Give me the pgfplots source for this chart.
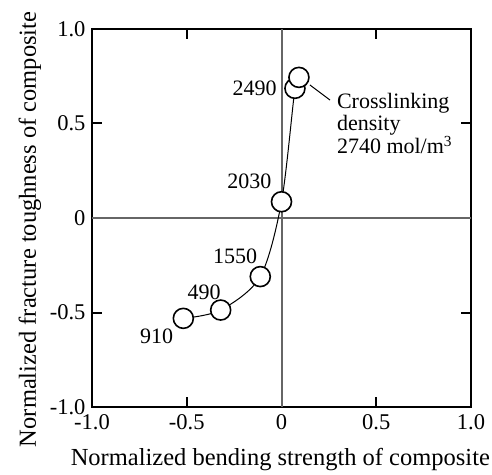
\documentclass[border=0pt]{standalone}
\usepackage{pgfplots}
\pgfplotsset{compat=1.18}
\usepackage{fontspec}
\setmainfont{Liberation Serif}
\begin{document}
\begin{tikzpicture}
\begin{axis}[
  scale only axis,
  width=379pt, height=378pt,
  xmin=-1, xmax=1, ymin=-1, ymax=1,
  xtick={-1,-0.5,0,0.5,1}, xticklabels={-1.0,-0.5,0,0.5,1.0},
  ytick={-1,-0.5,0,0.5,1}, yticklabels={-1.0,-0.5,0,0.5,1.0},
  tick align=inside, major tick length=10pt,
  tick style={line width=2pt, black},
  axis line style={line width=2pt},
  ticklabel style={font=\fontsize{22.5}{24}\selectfont},
  xticklabel style={yshift=-4pt},
  yticklabel style={xshift=-3pt},
  xlabel={Normalized bending strength of composite},
  ylabel={Normalized fracture toughness of composite},
  xlabel style={font=\fontsize{24.5}{26}\selectfont, at={(axis description cs:0.497,-0.140)}, anchor=center},
  ylabel style={font=\fontsize{24.5}{26}\selectfont, at={(axis description cs:-0.1636,0.470)}, anchor=center},
  clip=false,
]
\draw[line width=2pt, black!60] (axis cs:0,-1) -- (axis cs:0,1);
\draw[line width=2pt, black!60] (axis cs:-1,0) -- (axis cs:1,0);
\addplot[black, line width=1pt, smooth, tension=0.5,
  mark=*, mark size=10pt, mark options={fill=white, draw=black, line width=1.6pt}]
  coordinates {(-0.518,-0.531) (-0.321,-0.487) (-0.112,-0.31) (0.0,0.086) (0.071,0.686) (0.092,0.744)};
\draw[black, line width=1pt] (axis cs:0.150,0.704) -- (axis cs:0.256,0.624);
\begin{scope}[every node/.style={font=\fontsize{22}{23}\selectfont, inner sep=0pt}]
\node[anchor=east] at (axis cs:-0.025,0.686) {2490};
\node[anchor=east] at (axis cs:-0.052,0.192) {2030};
\node[anchor=east] at (axis cs:-0.128,-0.201) {1550};
\node[anchor=center] at (axis cs:-0.408,-0.395) {490};
\node[anchor=east] at (axis cs:-0.571,-0.624) {910};
\node[anchor=north west, align=left, font=\fontsize{22}{21.5}\selectfont] at (axis cs:0.292,0.660) {Crosslinking\\density\\2740 mol/m\textsuperscript{3}};
\end{scope}
\end{axis}
\pgfresetboundingbox
\path[use as bounding box] ([shift={(-92pt,-67pt)}]current axis.south west) rectangle ([shift={(21pt,29pt)}]current axis.north east);
\end{tikzpicture}
\end{document}
